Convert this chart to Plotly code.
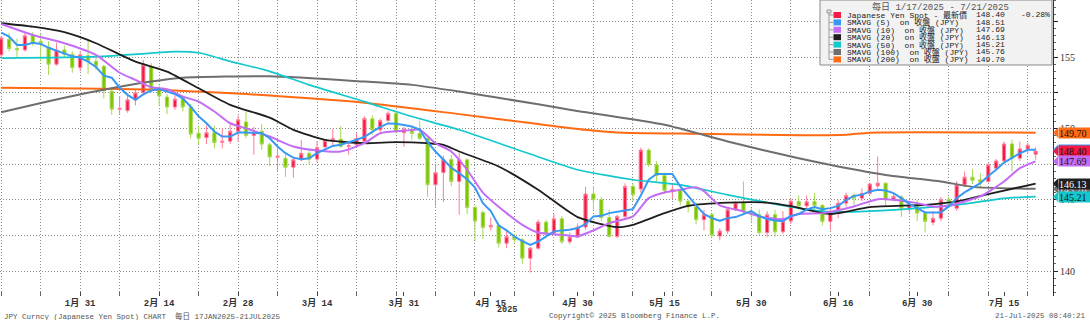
import numpy as np
import pandas as pd
import plotly.graph_objects as go

# ---------------- data ----------------
dates = pd.bdate_range("2025-01-17", "2025-07-21")  # daily bars (weekdays)

opens = [155.15, 156.25, 155.6, 155.5, 156.5, 156.1, 155.7, 154.5, 155.5, 155.2,
         154.26, 155.1, 154.7, 154.35, 152.6, 151.35, 151.25, 152.0, 152.5, 154.35,
         152.8, 152.2, 151.5, 152.1, 151.5, 149.66, 149.35, 149.7, 149.02, 149.1,
         149.8, 150.45, 149.5, 149.8, 148.85, 147.98, 147.9, 147.28, 147.8, 148.25,
         147.85, 148.7, 149.2, 149.24, 148.72, 148.85, 149.1, 150.67, 149.9, 150.55,
         151.05, 149.7, 149.94, 149.65, 149.3, 146.05, 146.9, 147.82, 146.28, 147.8,
         144.45, 144.1, 143.1, 143.2, 141.95, 142.42, 142.2, 140.9, 141.6, 143.43,
         142.66, 143.66, 142.05, 142.38, 143.08, 145.4, 145.0, 143.75, 142.43, 143.83,
         145.93, 145.75, 148.48, 147.45, 146.7, 145.65, 145.7, 144.9, 144.5, 143.6,
         143.95, 142.45, 142.8, 144.32, 144.8, 144.15, 143.95, 142.7, 143.95, 142.75,
         143.5, 144.88, 144.57, 144.86, 144.6, 143.48, 144.06, 144.76, 145.3, 145.1,
         145.45, 145.97, 146.16, 145.0, 145.2, 144.4, 144.6, 144.06, 143.4, 143.7,
         144.99, 144.4, 146.04, 146.58, 146.4, 146.28, 147.2, 147.72, 148.91, 147.91,
         148.56, 148.19]
highs = [156.45, 156.7, 156.3, 156.7, 156.75, 156.6, 156.1, 156.0, 155.8, 155.4,
         155.4, 156.2, 155.0, 154.45, 152.9, 152.25, 152.3, 152.7, 154.8, 154.6,
         153.0, 152.4, 152.3, 152.3, 151.7, 150.2, 150.2, 150.2, 150.0, 150.3,
         150.9, 151.2, 150.1, 150.3, 149.0, 148.6, 148.15, 147.9, 149.2, 148.4,
         149.1, 149.2, 149.95, 150.15, 149.0, 149.65, 150.85, 150.9, 150.7, 151.2,
         151.2, 150.1, 150.15, 150.5, 149.45, 147.45, 148.1, 148.15, 148.28, 147.9,
         144.6, 144.25, 143.75, 143.4, 142.9, 142.6, 142.3, 141.7, 143.6, 143.6,
         144.0, 143.87, 142.7, 143.35, 145.9, 145.95, 145.2, 144.3, 143.95, 146.15,
         146.15, 148.65, 148.6, 147.7, 146.9, 146.1, 145.8, 145.0, 144.8, 144.3,
         144.1, 143.0, 144.4, 144.9, 146.28, 144.4, 144.3, 144.2, 144.3, 144.2,
         145.1, 145.3, 145.3, 145.46, 144.7, 144.5, 145.0, 145.5, 145.46, 145.8,
         146.2, 148.03, 146.2, 145.4, 145.3, 144.9, 145.0, 144.2, 144.2, 145.2,
         145.2, 146.3, 146.97, 147.15, 146.86, 147.56, 147.85, 149.08, 149.2, 149.08,
         149.0, 148.68]
lows = [155.0, 155.4, 155.0, 155.4, 155.8, 154.7, 153.75, 154.4, 155.0, 153.9,
        154.0, 153.8, 154.1, 152.1, 150.95, 150.95, 151.1, 151.6, 152.4, 152.5,
        151.6, 151.0, 151.3, 151.2, 149.3, 148.9, 148.9, 148.6, 148.6, 148.9,
        149.1, 149.3, 148.15, 148.5, 147.35, 146.95, 146.6, 146.55, 147.7, 147.45,
        147.65, 148.6, 148.75, 148.65, 148.15, 148.7, 149.0, 149.55, 149.75, 150.4,
        149.65, 148.7, 149.2, 149.2, 145.2, 144.55, 144.85, 145.95, 143.95, 144.0,
        142.1, 142.25, 142.85, 141.65, 141.6, 142.0, 140.5, 139.9, 141.5, 142.3,
        142.6, 141.9, 141.9, 142.3, 142.9, 144.3, 143.5, 142.35, 142.3, 143.6,
        144.9, 145.5, 147.3, 146.3, 145.4, 145.05, 144.6, 144.1, 143.3, 142.85,
        142.4, 142.15, 142.6, 144.2, 143.9, 143.45, 142.55, 142.37, 142.4, 142.6,
        143.3, 144.3, 144.3, 144.3, 143.2, 142.85, 143.7, 144.5, 144.6, 144.9,
        145.3, 145.8, 144.55, 144.9, 143.8, 144.1, 143.5, 142.7, 143.2, 143.5,
        144.5, 144.2, 145.9, 146.1, 145.8, 146.2, 147.1, 147.5, 146.98, 147.7,
        148.2, 147.8]
closes = [156.34, 155.6, 155.5, 156.5, 156.0, 155.95, 154.5, 155.5, 155.2, 154.26,
          155.15, 154.7, 154.35, 152.65, 151.35, 151.4, 152.0, 152.5, 154.45, 152.7,
          152.27, 151.5, 152.05, 151.5, 149.6, 149.3, 149.7, 149.0, 149.1, 149.8,
          150.6, 149.5, 149.7, 148.9, 148.0, 148.05, 147.28, 147.8, 148.25, 147.85,
          148.65, 149.15, 149.28, 148.73, 148.78, 149.3, 150.7, 149.9, 150.55, 151.05,
          149.8, 149.94, 149.65, 149.3, 146.05, 146.9, 147.82, 146.28, 147.8, 144.45,
          143.5, 143.05, 143.2, 141.95, 142.42, 142.2, 140.9, 141.6, 143.43, 142.66,
          143.66, 142.05, 142.38, 143.08, 145.4, 145.0, 143.75, 142.43, 143.83, 145.93,
          145.35, 148.48, 147.45, 146.7, 145.65, 145.72, 144.9, 144.5, 143.6, 143.95,
          142.5, 142.8, 144.32, 144.79, 144.15, 143.98, 142.7, 143.95, 142.75, 143.5,
          144.9, 144.57, 144.86, 144.6, 143.48, 144.06, 144.76, 145.3, 145.1, 145.45,
          146.1, 146.16, 145.0, 145.23, 144.4, 144.64, 144.06, 143.48, 143.7, 144.99,
          144.88, 146.04, 146.58, 146.35, 146.23, 147.45, 147.72, 148.91, 147.91, 148.56,
          148.82, 148.40]

sma5 = [156.71, 156.43, 155.85, 155.85, 156.0, 155.92, 155.65, 155.45, 155.25, 155.05,
        154.95, 154.68, 154.3, 153.7, 153.55, 152.85, 152.35, 152.0, 152.38, 152.65,
        152.75, 152.6, 152.4, 152.1, 151.53, 150.85, 150.36, 149.78, 149.43, 149.43,
        149.71, 149.71, 149.66, 149.66, 149.31, 148.73, 148.26, 147.95, 147.84, 147.91,
        148.26, 148.5, 148.77, 148.85, 149.0, 149.2, 149.4, 149.75, 150.1, 150.35,
        150.33, 150.24, 150.13, 149.92, 149.03, 148.38, 147.8, 147.24, 146.86, 146.44,
        145.85, 144.75, 144.2, 143.2, 142.85, 142.42, 142.1, 141.83, 142.07, 142.43,
        142.78, 142.85, 142.9, 143.01, 143.28, 143.83, 143.87, 144.06, 144.18, 144.25,
        144.34, 145.3, 146.4, 146.8, 146.8, 146.8, 145.93, 145.23, 144.6, 144.0,
        143.71, 143.52, 143.71, 143.78, 144.01, 144.2, 143.85, 143.64, 143.55, 143.5,
        143.87, 144.0, 144.3, 144.48, 144.34, 144.41, 144.57, 144.99, 145.27, 145.34,
        145.58, 145.69, 145.65, 145.46, 145.11, 144.71, 144.41, 144.11, 144.11, 144.11,
        144.53, 145.11, 145.51, 145.81, 146.16, 146.67, 147.1, 147.6, 147.95, 148.26,
        148.5, 148.51]

sma10_dates = ["01-17", "01-23", "01-29", "02-04", "02-07", "02-11", "02-13", "02-17", "02-19", "02-21",
               "02-25", "02-27", "03-03", "03-06", "03-11", "03-14", "03-19", "03-24", "03-26", "03-31",
               "04-02", "04-04", "04-08", "04-10", "04-14", "04-17", "04-21", "04-23", "04-28", "04-30",
               "05-02", "05-06", "05-09", "05-13", "05-15", "05-19", "05-21", "05-22", "05-26", "05-29",
               "06-02", "06-05", "06-09", "06-12", "06-18", "06-23", "06-25", "06-30", "07-02", "07-04",
               "07-08", "07-10", "07-15", "07-17", "07-21"]
sma10_vals = [157.32, 156.55, 155.97, 155.15, 153.9, 153.4, 152.88, 152.74, 152.23, 151.88,
              151.18, 150.36, 150.0, 149.43, 148.73, 148.45, 148.38, 148.96, 149.66, 149.83,
              149.9, 148.96, 148.38, 147.1, 145.5, 144.06, 143.24, 142.7, 142.54, 142.43,
              142.85, 143.36, 143.83, 145.11, 145.51, 145.69, 145.88, 145.6, 144.6, 144.18,
              143.83, 143.64, 144.0, 144.06, 144.53, 145.04, 145.0, 144.76, 144.53, 144.57,
              144.88, 145.23, 146.28, 147.21, 147.69]

sma20_dates = ["01-17", "01-23", "01-29", "02-04", "02-11", "02-17", "02-21", "02-27", "03-06", "03-11",
               "03-17", "03-24", "03-28", "04-03", "04-07", "04-09", "04-16", "04-23", "04-30", "05-07",
               "05-09", "05-15", "05-20", "05-27", "06-03", "06-06", "06-13", "06-20", "07-01", "07-07",
               "07-11", "07-21"]
sma20_vals = [157.37, 157.13, 156.74, 155.97, 154.68, 153.98, 152.81, 151.65, 150.75, 149.9,
              149.2, 148.96, 149.03, 148.96, 148.85, 148.38, 147.33, 145.7, 143.78, 143.08,
              143.24, 144.06, 144.57, 144.8, 144.8, 144.55, 144.0, 144.48, 144.64, 144.88,
              145.39, 146.13]

sma50_dates = ["01-17", "02-04", "02-13", "02-18", "02-21", "02-27", "03-06", "03-13", "03-24", "04-01",
               "04-09", "04-22", "04-30", "05-09", "05-19", "05-27", "06-06", "06-13", "06-20", "07-01",
               "07-08", "07-15", "07-21"]
sma50_vals = [154.92, 155.03, 155.27, 155.38, 155.3, 154.7, 154.0, 153.05, 151.88, 150.83,
              149.9, 148.2, 147.1, 146.4, 146.04, 145.34, 144.5, 144.15, 144.2, 144.45,
              144.71, 145.1, 145.21]

sma100_dates = ["01-17", "01-27", "02-04", "02-13", "02-19", "03-06", "03-24", "04-01", "04-09", "04-23",
                "04-29", "05-15", "05-27", "06-09", "06-16", "06-24", "07-03", "07-09", "07-21"]
sma100_vals = [151.13, 151.9, 152.6, 153.28, 153.55, 153.65, 153.28, 153.05, 152.58, 151.69,
               151.3, 150.25, 149.08, 147.9, 147.33, 146.74, 146.28, 145.9, 145.76]

sma200_dates = ["01-17", "01-31", "02-14", "02-26", "03-06", "03-24", "04-09", "04-23", "05-01", "05-07",
                "05-21", "06-09", "06-17", "06-20", "07-21"]
sma200_vals = [152.85, 152.8, 152.7, 152.5, 152.3, 151.8, 151.0, 150.3, 149.9, 149.72,
               149.62, 149.52, 149.55, 149.7, 149.7]

tick_dates = ["01-31", "02-14", "02-28", "03-14", "03-31", "04-15", "04-30", "05-15", "05-30", "06-16",
              "06-30", "07-15"]
tick_labels = ["1月 31", "2月 14", "2月 28", "3月 14", "3月 31", "4月 15", "4月 30", "5月 15", "5月 30",
               "6月 16", "6月 30", "7月 15"]

y_ticks = [140, 142.5, 145, 147.5, 150, 152.5, 155, 157.5]
y_labels = ["140", "", "145", "", "150", "", "155", ""]

# ---------------- helpers ----------------
x = np.arange(len(dates))


def pos(md_list):
    return dates.get_indexer(pd.to_datetime(["2025-" + d for d in md_list]))


W, H = 1090, 320
ML, MR, MT, MB = 0, 37, 0, 24
PW, PH = W - ML - MR, H - MT - MB
YR = [138.25, 159.0]
XR = [-0.15, 133.2]


def pxx(p):
    return p / PW


def pxy(p):
    return (PH - p) / PH


def dy(pixels):
    return pixels * (YR[1] - YR[0]) / PH


MONO = "Liberation Mono, Noto Sans CJK TC"
SERIF = "Liberation Serif, DejaVu Serif"

RED, GREEN = "#f41a44", "#7cc600"
C5, C10, C20, C50, C100, C200 = "#3a98f5", "#c46cf5", "#1e1e1e", "#12c8cc", "#6e6e6e", "#ff6a13"

fig = go.Figure()

fig.add_trace(go.Candlestick(
    x=x, open=opens, high=highs, low=lows, close=closes,
    increasing=dict(line=dict(color="#ff7d96", width=1), fillcolor=RED),
    decreasing=dict(line=dict(color="#a5d84e", width=1), fillcolor=GREEN),
    whiskerwidth=0, showlegend=False, hoverinfo="skip"))

for d, v, c, w in [(sma200_dates, sma200_vals, C200, 2.0),
                   (sma100_dates, sma100_vals, C100, 2.0),
                   (sma50_dates, sma50_vals, C50, 1.7),
                   (sma20_dates, sma20_vals, C20, 1.8),
                   (sma10_dates, sma10_vals, C10, 2.0)]:
    fig.add_trace(go.Scatter(x=pos(d), y=v, mode="lines",
                             line=dict(color=c, width=w, shape="spline", smoothing=0.6),
                             showlegend=False, hoverinfo="skip"))
fig.add_trace(go.Scatter(x=x, y=sma5, mode="lines", line=dict(color=C5, width=2),
                         showlegend=False, hoverinfo="skip"))

grid_dash = "1px,2px"
fig.update_xaxes(range=XR, tickmode="array", tickvals=pos(tick_dates), ticktext=tick_labels,
                 ticks="inside", ticklen=4, tickcolor="#444", showgrid=False,
                 tickfont=dict(family=MONO, size=9, color="#333", weight="bold"),
                 minor=dict(tickmode="array", tickvals=list(range(0, len(dates) + 2, 5)),
                            ticks="inside", ticklen=4, tickcolor="#666",
                            showgrid=True, gridcolor="#8c8c8c", griddash=grid_dash, gridwidth=1),
                 zeroline=False, showline=False, rangeslider=dict(visible=False), fixedrange=True)
fig.update_yaxes(range=YR, side="right", tickmode="array", tickvals=y_ticks, ticktext=y_labels,
                 ticks="outside", ticklen=4, tickcolor="#222",
                 tickfont=dict(family=SERIF, size=10, color="#333"),
                 showline=True, linecolor="#333", linewidth=1,
                 showgrid=True, gridcolor="#8c8c8c", griddash=grid_dash, gridwidth=1,
                 minor=dict(dtick=0.5, ticks="outside", ticklen=2, tickcolor="#666", showgrid=False),
                 zeroline=False, fixedrange=True)

shapes = []
ann = []

# ---------- legend box ----------
shapes.append(dict(type="rect", xref="paper", yref="paper", x0=pxx(820), x1=pxx(1052),
                   y0=pxy(65), y1=pxy(0), fillcolor="#f2f2f2", line=dict(color="#8a8a8a", width=1),
                   layer="above"))
d0, d1 = dates[0], dates[-1]
ann.append(dict(xref="paper", yref="paper", x=pxx(940), y=pxy(7),
                text=f"每日 {d0.month}/{d0.day}/{d0.year} - {d1.month}/{d1.day}/{d1.year}",
                showarrow=False, xanchor="center", yanchor="middle",
                font=dict(family=MONO, size=9, color="#555")))

chg = (closes[-1] / closes[-2] - 1) * 100
nb = "\u00a0"
rows = [("Japanese Yen Spot - 最新價", closes[-1], RED),
        (f"SMAVG (5){nb}{nb}on 收盤 (JPY)", sma5[-1], C5),
        (f"SMAVG (10){nb}{nb}on 收盤 (JPY)", sma10_vals[-1], C10),
        (f"SMAVG (20){nb}{nb}on 收盤 (JPY)", sma20_vals[-1], C20),
        (f"SMAVG (50){nb}{nb}on 收盤 (JPY)", sma50_vals[-1], C50),
        (f"SMAVG (100){nb}{nb}on 收盤 (JPY)", sma100_vals[-1], C100),
        (f"SMAVG (200){nb}{nb}on 收盤 (JPY)", sma200_vals[-1], C200)]
row_y0, row_dy = 15.0, 7.4
shapes.append(dict(type="line", xref="paper", yref="paper", x0=pxx(829), x1=pxx(829),
                   y0=pxy(11), y1=pxy(row_y0 + 6 * row_dy), line=dict(color="#9a9a9a", width=1),
                   layer="above"))
shapes.append(dict(type="rect", xref="paper", yref="paper", x0=pxx(827), x1=pxx(831),
                   y0=pxy(13), y1=pxy(10), fillcolor="#e0e0e0", line=dict(color="#9a9a9a", width=1),
                   layer="above"))
for k, (name, val, col) in enumerate(rows):
    yy = row_y0 + k * row_dy
    shapes.append(dict(type="line", xref="paper", yref="paper", x0=pxx(829), x1=pxx(833),
                       y0=pxy(yy), y1=pxy(yy), line=dict(color="#9a9a9a", width=1), layer="above"))
    shapes.append(dict(type="rect", xref="paper", yref="paper", x0=pxx(833.5), x1=pxx(841),
                       y0=pxy(yy + 3), y1=pxy(yy - 3), fillcolor=col, line=dict(width=0),
                       layer="above"))
    ann.append(dict(xref="paper", yref="paper", x=pxx(845), y=pxy(yy), text=name,
                    showarrow=False, xanchor="left", yanchor="middle",
                    font=dict(family=MONO, size=8, color="#222")))
    ann.append(dict(xref="paper", yref="paper", x=pxx(1007), y=pxy(yy), text=f"{val:.2f}",
                    showarrow=False, xanchor="right", yanchor="middle",
                    font=dict(family=MONO, size=8, color="#222")))
ann.append(dict(xref="paper", yref="paper", x=pxx(1019), y=pxy(row_y0), text=f"{chg:.2f}%",
                showarrow=False, xanchor="left", yanchor="middle",
                font=dict(family=MONO, size=8, color="#222")))

# ---------- right-hand value tags ----------
tags = [(sma200_vals[-1], C200, "#111"),
        (sma5[-1], C5, "#111"),
        (closes[-1], RED, "#111"),
        (sma10_vals[-1], C10, "#111"),
        (sma100_vals[-1], C100, "#eee"),
        (sma20_vals[-1], C20, "#fff"),
        (sma50_vals[-1], C50, "#111")]
for val, col, tcol in tags:
    h = dy(5)
    shapes.append(dict(type="path", xref="paper", yref="y",
                       path=f"M {pxx(PW)},{val} L {pxx(PW + 5)},{val + h} L {pxx(PW + 5)},{val - h} Z",
                       fillcolor=col, line=dict(width=0), layer="above"))
    ann.append(dict(xref="paper", yref="y", x=pxx(PW + 4.5), y=val, text=f"{val:.2f}",
                    showarrow=False, xanchor="left", yanchor="middle", align="left",
                    width=34, height=10, borderpad=0, bgcolor=col,
                    font=dict(family=SERIF, size=10, color=tcol)))

# ---------- footer / year ----------
ann.append(dict(xref="paper", yref="paper", x=pxx(507), y=pxy(309.5), text="2025", showarrow=False,
                xanchor="center", yanchor="middle",
                font=dict(family=MONO, size=8.5, color="#333", weight="bold")))
ann.append(dict(xref="paper", yref="paper", x=pxx(2), y=pxy(315.5),
                text=f"JPY Curncy (Japanese Yen Spot) CHART{nb}{nb}每日 17JAN2025-21JUL2025",
                showarrow=False, xanchor="left", yanchor="middle",
                font=dict(family=MONO, size=7.5, color="#555")))
ann.append(dict(xref="paper", yref="paper", x=pxx(547), y=pxy(315.5),
                text="Copyright© 2025 Bloomberg Finance L.P.", showarrow=False,
                xanchor="left", yanchor="middle", font=dict(family=MONO, size=7.5, color="#555")))
ann.append(dict(xref="paper", yref="paper", x=pxx(1088), y=pxy(315.5),
                text="21-Jul-2025 08:40:21", showarrow=False,
                xanchor="right", yanchor="middle", font=dict(family=MONO, size=7.5, color="#555")))

fig.update_layout(width=W, height=H, margin=dict(l=ML, r=MR, t=MT, b=MB, pad=0),
                  paper_bgcolor="white", plot_bgcolor="white", boxgap=0.42,
                  showlegend=False, shapes=shapes, annotations=ann, hovermode=False)

fig.write_html("out.html", config=dict(displayModeBar=False, staticPlot=True))
